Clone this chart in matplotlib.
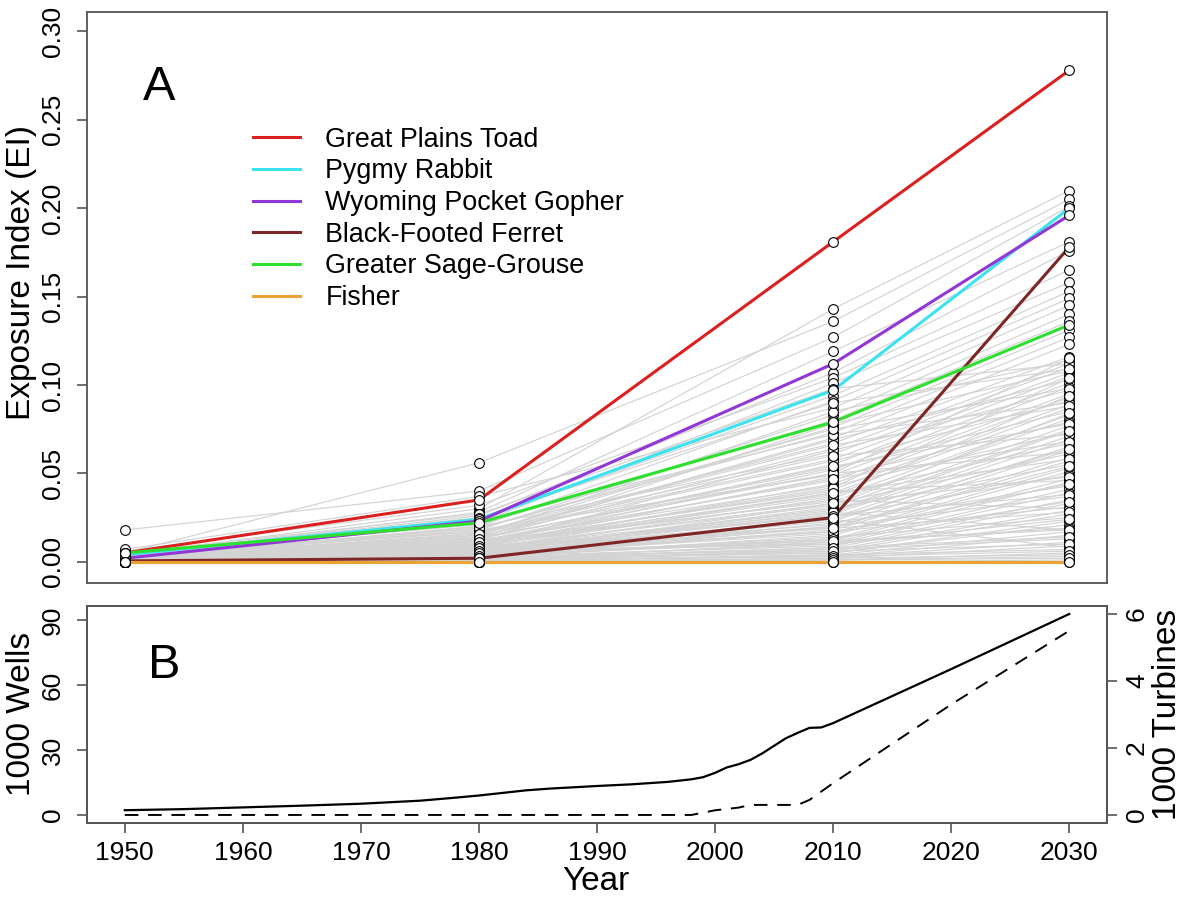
import matplotlib
matplotlib.use("Agg")
import matplotlib.pyplot as plt

plt.rcParams["font.family"] = ["Liberation Sans", "DejaVu Sans"]

years = [1950, 1980, 2010, 2030]

# background species, exposure index at each of the four snapshot years
ei_1950 = [0.004, 0.005, 0.018, 0.003, 0.004, 0.006, 0.003, 0.005, 0.002, 0.007,
           0.003, 0.004, 0.002, 0.003, 0.002, 0.003, 0.002, 0.004, 0.002, 0.003,
           0.001, 0.002, 0.003, 0.001, 0.002, 0.001, 0.002, 0.001, 0.003, 0.001,
           0.002, 0.002, 0.001, 0.002, 0.001, 0.001, 0.002, 0.001, 0.001, 0.000,
           0.002, 0.001, 0.001, 0.000, 0.001, 0.000, 0.001, 0.001, 0.000, 0.001,
           0.000, 0.001, 0.000, 0.000, 0.001, 0.000, 0.000, 0.000, 0.001, 0.000,
           0.000, 0.000, 0.000, 0.000, 0.000, 0.000, 0.000, 0.000, 0.000, 0.000,
           0.000, 0.000, 0.000, 0.000, 0.000, 0.005, 0.004, 0.003, 0.002, 0.002,
           0.001, 0.001, 0.001,
           0.002, 0.004, 0.001, 0.003, 0.001, 0.002, 0.001, 0.002, 0.001, 0.001,
           0.001, 0.001, 0.000, 0.001, 0.000, 0.001, 0.000, 0.000, 0.000, 0.000,
           0.000, 0.000, 0.000, 0.000, 0.000]
ei_1980 = [0.030, 0.056, 0.040, 0.028, 0.026, 0.032, 0.022, 0.024, 0.020, 0.037,
           0.018, 0.021, 0.016, 0.019, 0.014, 0.017, 0.015, 0.013, 0.020, 0.012,
           0.016, 0.011, 0.014, 0.010, 0.018, 0.009, 0.012, 0.008, 0.015, 0.010,
           0.007, 0.013, 0.006, 0.011, 0.009, 0.005, 0.008, 0.012, 0.006, 0.004,
           0.010, 0.005, 0.007, 0.004, 0.009, 0.003, 0.006, 0.004, 0.002, 0.008,
           0.003, 0.005, 0.002, 0.004, 0.006, 0.002, 0.003, 0.001, 0.005, 0.002,
           0.001, 0.003, 0.001, 0.002, 0.001, 0.000, 0.001, 0.000, 0.001, 0.000,
           0.000, 0.000, 0.000, 0.000, 0.000, 0.027, 0.023, 0.017, 0.014, 0.011,
           0.009, 0.007, 0.005,
           0.012, 0.025, 0.010, 0.019, 0.009, 0.016, 0.008, 0.013, 0.007, 0.011,
           0.006, 0.009, 0.005, 0.008, 0.004, 0.006, 0.003, 0.005, 0.002, 0.003,
           0.002, 0.001, 0.001, 0.000, 0.000]
ei_2010 = [0.143, 0.136, 0.127, 0.119, 0.107, 0.104, 0.101, 0.094, 0.091, 0.087,
           0.083, 0.080, 0.076, 0.073, 0.070, 0.067, 0.085, 0.064, 0.061, 0.078,
           0.058, 0.055, 0.069, 0.052, 0.049, 0.063, 0.046, 0.044, 0.057, 0.041,
           0.039, 0.053, 0.036, 0.034, 0.048, 0.031, 0.029, 0.043, 0.027, 0.025,
           0.038, 0.023, 0.021, 0.033, 0.019, 0.018, 0.030, 0.016, 0.015, 0.026,
           0.013, 0.012, 0.022, 0.011, 0.010, 0.020, 0.009, 0.008, 0.017, 0.007,
           0.006, 0.014, 0.005, 0.005, 0.011, 0.004, 0.003, 0.007, 0.003, 0.002,
           0.004, 0.001, 0.001, 0.000, 0.000, 0.098, 0.072, 0.060, 0.050, 0.040,
           0.035, 0.028, 0.024,
           0.050, 0.090, 0.042, 0.075, 0.037, 0.066, 0.032, 0.054, 0.028, 0.047,
           0.024, 0.039, 0.020, 0.033, 0.017, 0.026, 0.013, 0.019, 0.010, 0.012,
           0.008, 0.006, 0.003, 0.002, 0.001]
ei_2030 = [0.210, 0.205, 0.201, 0.181, 0.176, 0.165, 0.158, 0.153, 0.149, 0.145,
           0.140, 0.136, 0.131, 0.127, 0.123, 0.116, 0.114, 0.112, 0.110, 0.108,
           0.107, 0.105, 0.103, 0.101, 0.099, 0.097, 0.095, 0.093, 0.091, 0.089,
           0.087, 0.085, 0.083, 0.081, 0.079, 0.077, 0.075, 0.073, 0.071, 0.069,
           0.067, 0.065, 0.063, 0.061, 0.059, 0.057, 0.055, 0.053, 0.051, 0.049,
           0.047, 0.045, 0.043, 0.041, 0.039, 0.037, 0.035, 0.033, 0.031, 0.029,
           0.027, 0.025, 0.023, 0.021, 0.019, 0.017, 0.015, 0.013, 0.011, 0.009,
           0.007, 0.005, 0.003, 0.001, 0.000, 0.112, 0.090, 0.072, 0.062, 0.046,
           0.030, 0.018, 0.008,
           0.115, 0.109, 0.104, 0.098, 0.094, 0.088, 0.084, 0.078, 0.074, 0.068,
           0.064, 0.058, 0.054, 0.048, 0.044, 0.038, 0.034, 0.028, 0.024, 0.018,
           0.014, 0.010, 0.006, 0.004, 0.002]

# highlighted species
species = ["Great Plains Toad", "Pygmy Rabbit", "Wyoming Pocket Gopher",
           "Black-Footed Ferret", "Greater Sage-Grouse", "Fisher"]
species_colors = ["#dc1f1f", "#3ae3ee", "#9236d6", "#7e2626", "#2ee02e", "#eaa233"]
species_ei = [
    [0.005, 0.035, 0.181, 0.278],
    [0.004, 0.024, 0.097, 0.200],
    [0.002, 0.023, 0.112, 0.196],
    [0.0005, 0.002, 0.025, 0.178],
    [0.005, 0.022, 0.079, 0.134],
    [0.000, 0.000, 0.000, 0.000],
]

# energy development: oil & gas wells and wind turbines (thousands)
well_years = [1950, 1955, 1960, 1965, 1970, 1975, 1978, 1980, 1982, 1984, 1986,
              1988, 1990, 1993, 1996, 1998, 1999, 2000, 2001, 2002, 2003, 2004,
              2005, 2006, 2007, 2008, 2009, 2010, 2020, 2030]
wells = [2.2, 2.7, 3.5, 4.3, 5.2, 6.6, 8.0, 9.0, 10.2, 11.4, 12.2,
         12.8, 13.4, 14.2, 15.3, 16.5, 17.5, 19.5, 22.0, 23.5, 25.5, 28.5,
         32.0, 35.5, 38.0, 40.3, 40.5, 42.5, 67.5, 93.0]
turbine_years = [1950, 1998, 2000, 2002, 2003, 2007, 2008, 2010, 2020, 2030]
turbines = [0.0, 0.0, 0.14, 0.22, 0.30, 0.30, 0.45, 0.95, 3.3, 5.5]

W, H = 1183, 898
fig = plt.figure(figsize=(W / 100, H / 100), dpi=100)

def box(l, t, r, b):
    return [l / W, 1 - b / H, (r - l) / W, (b - t) / H]

frame = "#555555"
xlim = (1946.8, 2033.2)

# ---- panel A
ax = fig.add_axes(box(87, 12, 1107, 583))
for i in range(len(ei_2030)):
    ax.plot(years, [ei_1950[i], ei_1980[i], ei_2010[i], ei_2030[i]],
            color="#d3d3d3", lw=0.85, zorder=1)
for name, col, vals in zip(species, species_colors, species_ei):
    ax.plot(years, vals, color=col, lw=2.2, label=name, zorder=3)
for yr, col in zip(years, [ei_1950, ei_1980, ei_2010, ei_2030]):
    ax.plot([yr] * len(col), col, ls="none", marker="o", ms=7, mfc="white",
            mec="black", mew=0.8, zorder=4)
for vals in species_ei:
    ax.plot(years, vals, ls="none", marker="o", ms=7, mfc="white",
            mec="black", mew=0.8, zorder=4)

ax.set_xlim(xlim)
ax.set_ylim(-0.012, 0.311)
ax.set_xticks([])
ax.set_yticks([0, 0.05, 0.10, 0.15, 0.20, 0.25, 0.30])
ax.set_yticklabels(["0.00", "0.05", "0.10", "0.15", "0.20", "0.25", "0.30"])
ax.tick_params(axis="y", labelsize=19, length=7, width=1.2, color=frame,
               pad=9, labelrotation=90)
for lab in ax.get_yticklabels():
    lab.set_va("center")
for s in ax.spines.values():
    s.set_color(frame)
    s.set_linewidth(1.3)
ax.text(0.055, 0.867, "A", transform=ax.transAxes, fontsize=35,
        ha="left", va="center")
ax.legend(loc="upper left", bbox_to_anchor=(0.163, 0.799), frameon=False,
          fontsize=19.4, handlelength=1.75, handletextpad=0.93,
          labelspacing=0.21, borderpad=0, borderaxespad=0)

# ---- panel B
bx = fig.add_axes(box(87, 606, 1107, 823))
bx.plot(well_years, wells, color="black", lw=1.6)
bx.set_xlim(xlim)
bx.set_ylim(-3.72, 96.7)
bx.set_yticks([0, 30, 60, 90])
bx.set_xticks([1950, 1960, 1970, 1980, 1990, 2000, 2010, 2020, 2030])
bx.tick_params(axis="both", labelsize=19, length=7, width=1.2, color=frame)
bx.tick_params(axis="y", pad=9, labelrotation=90)
bx.tick_params(axis="x", pad=6)
for lab in bx.get_yticklabels():
    lab.set_va("center")
bx.text(0.06, 0.726, "B", transform=bx.transAxes, fontsize=35,
        ha="left", va="center")

tx = bx.twinx()
tx.plot(turbine_years, turbines, color="black", lw=1.4, dashes=(7, 5))
tx.set_ylim(-0.24, 6.24)
tx.set_yticks([0, 2, 4, 6])
tx.tick_params(axis="y", labelsize=19, length=7, width=1.2, color=frame,
               pad=6, labelrotation=90)
for lab in tx.get_yticklabels():
    lab.set_va("center")
for a in (bx, tx):
    for s in a.spines.values():
        s.set_color(frame)
        s.set_linewidth(1.3)

fig.text(22 / W, 1 - 272 / H, "Exposure Index (EI)", rotation=90,
         fontsize=24, ha="center", va="center")
fig.text(22 / W, 1 - 714 / H, "1000 Wells", rotation=90,
         fontsize=24, ha="center", va="center")
fig.text(1167 / W, 1 - 714 / H, "1000 Turbines", rotation=90,
         fontsize=24, ha="center", va="center")
fig.text(596 / W, 1 - 882 / H, "Year", fontsize=24, ha="center", va="center")

fig.savefig("out.png", dpi=100)
